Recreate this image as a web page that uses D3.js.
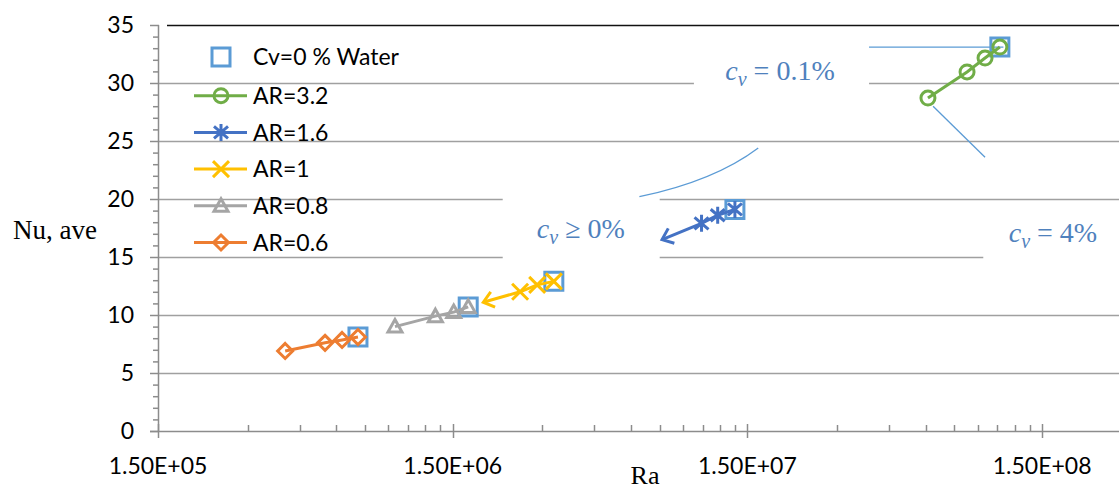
<!DOCTYPE html>
<html>
<head>
<meta charset="utf-8">
<script src="https://cdn.jsdelivr.net/npm/d3@7"></script>
<style>
  body { margin: 0; background: #fff; }
  svg { display: block; }
</style>
</head>
<body>
<svg id="chart" width="1119" height="489"></svg>
<script>
// data ------------------------------------------ //
var waterRa = [7.1e5, 1.68e6, 3.28e6, 1.35e7, 1.07e8];
var waterNu = [8.1, 10.7, 12.9, 19.1, 33.1];

var ar32Ra = [6.10e7, 8.28e7, 9.53e7, 1.07e8];
var ar32Nu = [28.7, 30.95, 32.15, 33.1];

var ar16Ra = [7.64e6, 1.04e7, 1.18e7, 1.35e7];
var ar16Nu = [16.5, 17.9, 18.6, 19.1];

var ar1Ra = [1.89e6, 2.52e6, 2.88e6, 3.28e6];
var ar1Nu = [11.1, 12.0, 12.6, 12.9];

var ar08Ra = [9.48e5, 1.30e6, 1.5e6, 1.68e6];
var ar08Nu = [9.0, 9.9, 10.25, 10.7];

var ar06Ra = [4.02e5, 5.49e5, 6.27e5, 7.1e5];
var ar06Nu = [6.9, 7.6, 7.85, 8.1];

var seriesNames = ['Cv=0 % Water', 'AR=3.2', 'AR=1.6', 'AR=1', 'AR=0.8', 'AR=0.6'];
var yTicks = [0, 5, 10, 15, 20, 25, 30, 35];
var xTicks = [1.5e5, 1.5e6, 1.5e7, 1.5e8];
var xTickLabels = ['1.50E+05', '1.50E+06', '1.50E+07', '1.50E+08'];

var series = [
  { name: seriesNames[0], ra: waterRa, nu: waterNu, color: '#5B9BD5', symbol: 'square', line: false },
  { name: seriesNames[1], ra: ar32Ra, nu: ar32Nu, color: '#70AD47', symbol: 'circle', line: true },
  { name: seriesNames[2], ra: ar16Ra, nu: ar16Nu, color: '#4472C4', symbol: 'star', line: true, arrow: true },
  { name: seriesNames[3], ra: ar1Ra, nu: ar1Nu, color: '#FFC000', symbol: 'x', line: true, arrow: true },
  { name: seriesNames[4], ra: ar08Ra, nu: ar08Nu, color: '#A5A5A5', symbol: 'triangle', line: true },
  { name: seriesNames[5], ra: ar06Ra, nu: ar06Nu, color: '#ED7D31', symbol: 'diamond', line: true }
];

// annotations, in data units (Ra, Nu)
var notes = [
  { text: '0.1%', op: '=', ra: 1.92e7, nu: 31.1, box: [9.8e6, 3.85e7, 32, 28] },
  { text: '0%', op: '\u2265', ra: 4.05e6, nu: 17.5, box: [2.2e6, 7.5e6, 20.8, 14.2] },
  { text: '4%', op: '=', ra: 1.62e8, nu: 17.15, box: [9.4e7, 2e9, 19.4, 14.2] }
];

var svg = d3.select('#chart'),
  x = d3.scaleLog().domain([1.5e5, 1.5e9]).range([159, 159 + 4 * 294.7]),
  y = d3.scaleLinear().domain([0, 35]).range([431, 25]);

var tickFont = 'Lato, "Open Sans", sans-serif';

// Gridlines ----------------------- //
svg.append('g').selectAll('line')
  .data(yTicks.filter(function (d) { return d > 0; }))
  .enter()
  .append('line')
  .attr('x1', function (d) { return d === 35 ? 167 : x(1.5e5); })
  .attr('x2', 1119)
  .attr('y1', function (d) { return y(d) + 0.5; })
  .attr('y2', function (d) { return y(d) + 0.5; })
  .style('stroke', function (d) { return d === 35 ? '#111' : '#A0A0A0'; })
  .style('stroke-width', 1.5);

// white text boxes hide the gridlines under the notes
svg.append('g').selectAll('rect')
  .data(notes)
  .enter()
  .append('rect')
  .attr('x', function (d) { return x(d.box[0]); })
  .attr('width', function (d) { return x(d.box[1]) - x(d.box[0]); })
  .attr('y', function (d) { return y(d.box[2]); })
  .attr('height', function (d) { return y(d.box[3]) - y(d.box[2]); })
  .style('fill', '#fff');

// Axes ----------------------- //
var axis = svg.append('g').style('stroke', '#8C8C8C').style('stroke-width', 1.5);

axis.append('line')
  .attr('x1', x(1.5e5) - 0.5).attr('x2', x(1.5e5) - 0.5)
  .attr('y1', y(35)).attr('y2', y(0));
axis.append('line')
  .attr('x1', 150).attr('x2', 1119)
  .attr('y1', y(0) + 0.5).attr('y2', y(0) + 0.5);

axis.selectAll('.ymin')
  .data(d3.range(0, 36))
  .enter()
  .append('line')
  .attr('x1', function (d) { return d % 5 === 0 ? 150 : 153; })
  .attr('x2', x(1.5e5))
  .attr('y1', function (d) { return y(d) + 0.5; })
  .attr('y2', function (d) { return y(d) + 0.5; });

var minorX = [];
xTicks.concat([1.5e9]).forEach(function (base) {
  d3.range(2, 10).forEach(function (k) { minorX.push(base * k); });
});
axis.selectAll('.xmin')
  .data(minorX.filter(function (d) { return x(d) < 1119; }))
  .enter()
  .append('line')
  .attr('x1', function (d) { return Math.round(x(d)) + 0.5; })
  .attr('x2', function (d) { return Math.round(x(d)) + 0.5; })
  .attr('y1', y(0) - 6)
  .attr('y2', y(0));

axis.selectAll('.xmaj')
  .data(xTicks)
  .enter()
  .append('line')
  .attr('x1', function (d) { return Math.round(x(d)) - 0.5; })
  .attr('x2', function (d) { return Math.round(x(d)) - 0.5; })
  .attr('y1', y(0) - 7)
  .attr('y2', y(0) + 7);

svg.append('g').selectAll('text')
  .data(yTicks)
  .enter()
  .append('text')
  .attr('x', 134)
  .attr('y', function (d) { return y(d); })
  .attr('dy', '0.36em')
  .style('text-anchor', 'end')
  .style('font-family', tickFont)
  .style('font-size', '23px')
  .text(function (d) { return d; });

svg.append('g').selectAll('text')
  .data(xTicks)
  .enter()
  .append('text')
  .attr('x', function (d) { return x(d) - 1; })
  .attr('y', 474)
  .style('text-anchor', 'middle')
  .style('font-family', tickFont)
  .style('font-size', '23px')
  .text(function (d, i) { return xTickLabels[i]; });

svg.append('text')
  .attr('x', 645).attr('y', 484)
  .style('text-anchor', 'middle')
  .style('font-family', '"Liberation Serif", "Times New Roman", serif')
  .style('font-size', '26px')
  .text('Ra');

svg.append('text')
  .attr('x', 13).attr('y', 239)
  .style('font-family', '"Liberation Serif", "Times New Roman", serif')
  .style('font-size', '27px')
  .text('Nu, ave');

// Notes ----------------------- //
var noteText = svg.append('g').selectAll('text')
  .data(notes)
  .enter()
  .append('text')
  .attr('x', function (d) { return x(d.ra); })
  .attr('y', function (d) { return y(d.nu); })
  .attr('dy', '0.35em')
  .style('text-anchor', 'middle')
  .style('font-family', '"Liberation Serif", "DejaVu Serif", serif')
  .style('font-size', '28px')
  .style('fill', '#4F81BD');
noteText.append('tspan').style('font-style', 'italic').text('c');
noteText.append('tspan').style('font-style', 'italic').style('font-size', '20px')
  .attr('dy', 6).text('v');
noteText.append('tspan').attr('dy', -6)
  .text(function (d) { return ' ' + d.op + ' ' + d.text; });

var leaders = svg.append('g')
  .style('fill', 'none')
  .style('stroke', '#5B9BD5')
  .style('stroke-width', 1.3);
leaders.append('path')
  .attr('d', 'M' + x(6.4e6) + ',' + y(20.2) + 'Q' + x(1.15e7) + ',' + y(21.55) + ' ' + x(1.62e7) + ',' + y(24.4));
leaders.append('line')
  .attr('x1', x(3.85e7)).attr('y1', y(33.1))
  .attr('x2', x(1.10e8)).attr('y2', y(33.1));
leaders.append('line')
  .attr('x1', x(6.35e7)).attr('y1', y(28.0))
  .attr('x2', x(9.53e7)).attr('y2', y(23.6));

// Markers ----------------------- //
var symbols = {
  square: 'M-9,-9H9V9H-9Z',
  star: 'M0,-8.5V8.5M-7,-6L7,6M-7,6L7,-6',
  x: 'M-8,-8L8,8M-8,8L8,-8',
  triangle: 'M0,-7L7,5.5H-7Z',
  diamond: 'M0,-7.5L7.5,0L0,7.5L-7.5,0Z'
};

function drawSymbol(sel, s) {
  if (s.symbol === 'circle') {
    sel.append('circle').attr('r', 7);
  } else {
    sel.append('path').attr('d', symbols[s.symbol]);
  }
  sel.style('fill', 'none')
    .style('stroke', s.color)
    .style('stroke-width', 3);
}

var defs = svg.append('defs');
series.forEach(function (s, i) {
  if (!s.arrow) return;
  defs.append('marker')
    .attr('id', 'arrow' + i)
    .attr('markerUnits', 'userSpaceOnUse')
    .attr('markerWidth', 28).attr('markerHeight', 28)
    .attr('viewBox', '-14 -14 28 28')
    .attr('refX', 0).attr('refY', 0)
    .attr('orient', 'auto-start-reverse')
    .append('path')
    .attr('d', 'M-10,-8L0,0L-10,8')
    .style('fill', 'none')
    .style('stroke', s.color)
    .style('stroke-width', 3);
});

var line = d3.line()
  .x(function (d) { return x(d[0]); })
  .y(function (d) { return y(d[1]); });

series.forEach(function (s, i) {
  var pts = d3.zip(s.ra, s.nu),
    g = svg.append('g');
  if (s.line) {
    g.append('path')
      .attr('d', line(pts))
      .attr('marker-start', s.arrow ? 'url(#arrow' + i + ')' : null)
      .style('fill', 'none')
      .style('stroke', s.color)
      .style('stroke-width', 3);
  }
  g.selectAll('g')
    .data(s.arrow ? pts.slice(1) : pts)
    .enter()
    .append('g')
    .attr('transform', function (d) { return 'translate(' + x(d[0]) + ',' + y(d[1]) + ')'; })
    .each(function () { drawSymbol(d3.select(this), s); });
});

// Legend ----------------------- //
var legend = svg.append('g').selectAll('g')
  .data(series)
  .enter()
  .append('g')
  .attr('transform', function (d, i) { return 'translate(221,' + (i === 0 ? 57 : 59 + 36.7 * i) + ')'; });

legend.filter(function (d) { return d.line; })
  .append('line')
  .attr('x1', -27).attr('x2', 26)
  .style('stroke', function (d) { return d.color; })
  .style('stroke-width', 3);

legend.append('g').each(function (d) { drawSymbol(d3.select(this), d); });

legend.append('text')
  .attr('x', 32)
  .attr('dy', '0.36em')
  .style('font-family', tickFont)
  .style('font-size', '23px')
  .text(function (d) { return d.name; });
</script>
</body>
</html>
